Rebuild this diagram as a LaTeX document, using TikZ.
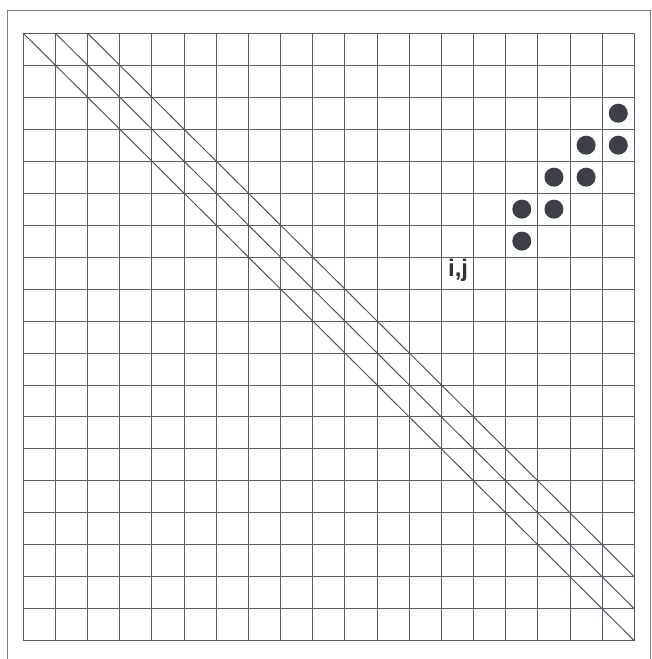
\documentclass[tikz,border=0pt]{standalone}
\usepackage{fontspec}
\setsansfont{Liberation Sans}
\definecolor{dotcol}{HTML}{3B3F48}
\definecolor{linecol}{HTML}{5A5E66}
\begin{document}
\begin{tikzpicture}[x=1pt,y=-1pt,
  gridline/.style={draw=linecol, line width=0.9pt},
  diagline/.style={draw=linecol!90!black, line width=1pt},
  dotnode/.style={circle, fill=dotcol, inner sep=0pt, minimum size=19pt},
  frameline/.style={draw=black!50, line width=1pt},
  labelnode/.style={font=\sffamily\bfseries\fontsize{24}{24}\selectfont, text=black!80, inner sep=0pt}]
\useasboundingbox (0,0) rectangle (652,659);
\fill[white] (0,0) rectangle (652,659);
\draw[frameline] (7,670) -- (7,10) -- (650,10) -- (650,670);
\begin{scope}[shift={(23.3,33.3)}, x=32.16pt, y=-31.97pt]
  \foreach \k in {0,...,19} {
    \draw[gridline] (\k,0) -- (\k,19);
    \draw[gridline] (0,\k) -- (19,\k);
  }
  \draw[diagline] (0,0) -- (19,19);
  \draw[diagline] (1,0) -- (19,18);
  \draw[diagline] (2,0) -- (19,17);
  \node[dotnode] (d1) at (18.5,2.5) {};
  \node[dotnode] (d2) at (17.5,3.5) {};
  \node[dotnode] (d3) at (18.5,3.5) {};
  \node[dotnode] (d4) at (16.5,4.5) {};
  \node[dotnode] (d5) at (17.5,4.5) {};
  \node[dotnode] (d6) at (15.5,5.5) {};
  \node[dotnode] (d7) at (16.5,5.5) {};
  \node[dotnode] (d8) at (15.5,6.5) {};
  \node[labelnode] (ij) at (13.52,7.4) {i,j};
\end{scope}
\end{tikzpicture}
\end{document}
